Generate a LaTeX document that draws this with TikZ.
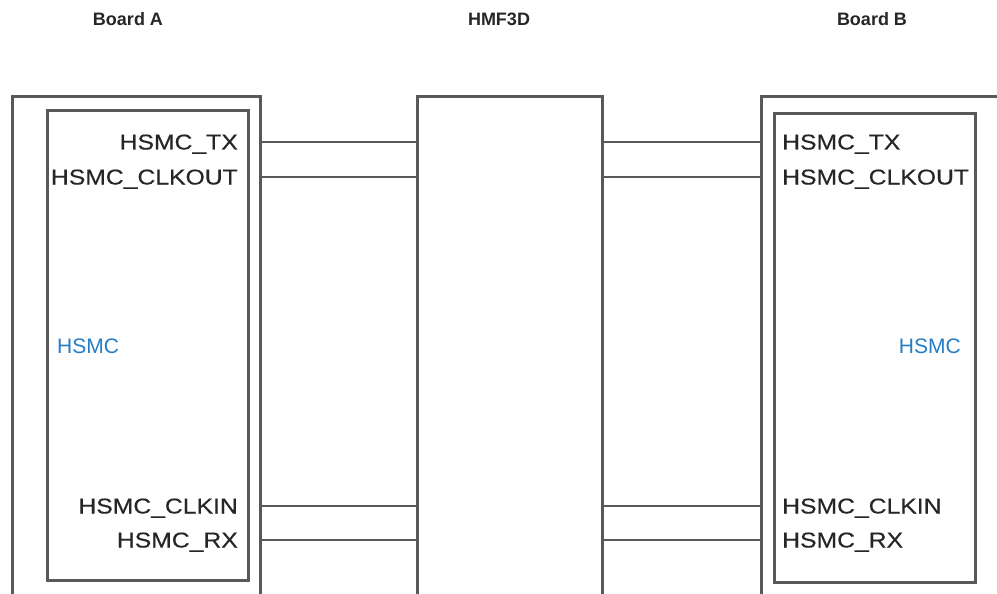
\documentclass[tikz,border=0pt]{standalone}
\usepackage{fontspec}
\setmainfont{Liberation Sans}
\newfontfamily\pinfam{Liberation Sans}[FakeStretch=1.15,FakeBold=0.4]
\usetikzlibrary{positioning}
\colorlet{edg}{black!65}
\colorlet{txt}{black!85}
\definecolor{hsb}{RGB}{38,125,199}
\tikzset{
    board/.style={draw=edg,line width=2.6pt,inner sep=0pt,anchor=north west},
    title/.style={txt,font=\bfseries\fontsize{18}{20}\selectfont},
    pin/.style={txt,font=\pinfam\fontsize{21.5}{24}\selectfont,inner sep=0pt,text height=15pt,text depth=0pt},
    port/.style={pin,hsb,font=\fontsize{21}{24}\selectfont},
    wire/.style={edg,line width=2.6pt}
}

\begin{document}
\begin{tikzpicture}[x=1pt,y=-1pt]
        \useasboundingbox (0,0) rectangle (997,594);
        % titles
        \node [title] (ttA) at (128,19) {Board A};
        \node [title] (ttM) at (499,19) {HMF3D};
        \node [title] (ttB) at (872,19) {Board B};
        % boxes, cut off by the page bottom
        \node [board,minimum width=248pt,minimum height=530pt] (outA) at (11,95) {};
        \node [board,minimum width=201pt,minimum height=470pt] (inA) at (46,109) {};
        \node [board,minimum width=185pt,minimum height=530pt] (mid) at (416,95) {};
        \node [board,minimum width=300pt,minimum height=530pt] (outB) at (760,95) {};
        \node [board,minimum width=201pt,minimum height=469pt] (inB) at (773,112) {};
        % pins
        \node [pin,anchor=east] (txA) at (238,142) {HSMC\_TX};
        \node [pin,anchor=east] (coA) at (238,177) {HSMC\_CLKOUT};
        \node [pin,anchor=east] (ciA) at (238,506) {HSMC\_CLKIN};
        \node [pin,anchor=east] (rxA) at (238,540) {HSMC\_RX};
        \node [pin,anchor=west] (txB) at (782,142) {HSMC\_TX};
        \node [pin,anchor=west] (coB) at (782,177) {HSMC\_CLKOUT};
        \node [pin,anchor=west] (ciB) at (782,506) {HSMC\_CLKIN};
        \node [pin,anchor=west] (rxB) at (782,540) {HSMC\_RX};
        \node [port,anchor=west] (hsA) at (57,346) {HSMC};
        \node [port,anchor=east] (hsB) at (961,346) {HSMC};
        % wires
        \foreach \p in {tx,co,ci,rx} {
            \draw [wire] (outA.east |- \p A) -- (mid.west |- \p A);
            \draw [wire] (mid.east |- \p B) -- (outB.west |- \p B);
        }
\end{tikzpicture}
\end{document}
